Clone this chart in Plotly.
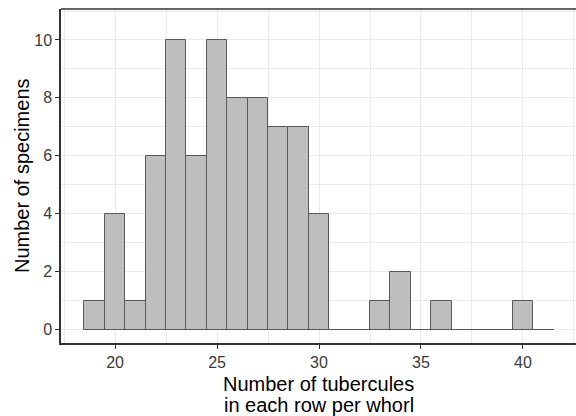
import plotly.graph_objects as go

# Data: histogram counts per bin (bin width 1, centred on integers)
bin_centers = list(range(19, 42))
counts = [1, 4, 1, 6, 10, 6, 10, 8, 8, 7, 7, 4, 0, 0, 1, 2, 0, 1, 0, 0, 0, 1, 0]
x_ticks = [20, 25, 30, 35, 40]
y_ticks = [0, 2, 4, 6, 8, 10]
x_title_lines = ["Number of tubercules", "in each row per whorl"]
y_title = "Number of specimens"

bin_width = 1.0
fill = "#BEBEBE"
outline = "#595959"
grid = "#EBEBEB"

W, H = 576, 416
L, R, T, B = 61, 0, 9, 73
plot_h = H - T - B

fig = go.Figure()
fig.add_trace(go.Bar(
    x=bin_centers, y=counts, width=bin_width,
    marker=dict(color=fill, line=dict(color=outline, width=1)),
    showlegend=False, hoverinfo="x+y",
))
# outline of empty bins along the baseline (as ggplot draws zero-height bins)
edges = [bin_centers[0] - bin_width / 2, bin_centers[-1] + bin_width / 2]
fig.add_trace(go.Scatter(
    x=edges, y=[0, 0], mode="lines",
    line=dict(color=outline, width=1), showlegend=False, hoverinfo="skip",
))

font_family = "Liberation Sans, Arial, sans-serif"

def py_to_paper(py):
    return (H - B - py) / plot_h

annotations = []
for line, py in zip(x_title_lines, [384, 405]):
    annotations.append(dict(
        text=line, xref="paper", yref="paper", x=0.5, y=py_to_paper(py),
        xanchor="center", yanchor="middle", showarrow=False,
        font=dict(size=20, color="#000000", family=font_family),
    ))
annotations.append(dict(
    text=y_title, xref="paper", yref="paper", x=(22 - L) / (W - L - R),
    y=py_to_paper(176), xanchor="center", yanchor="middle", textangle=-90,
    showarrow=False, font=dict(size=20, color="#000000", family=font_family),
))

fig.update_layout(
    width=W, height=H,
    margin=dict(l=L, r=R, t=T, b=B, autoexpand=False),
    paper_bgcolor="white", plot_bgcolor="white",
    bargap=0,
    font=dict(family=font_family, color="#000000"),
    xaxis=dict(
        range=[17.35, 42.6], tickvals=x_ticks, automargin=False,
        showgrid=True, gridcolor=grid, gridwidth=1.2,
        minor=dict(dtick=2.5, tick0=17.5, showgrid=True, gridcolor=grid, gridwidth=0.6),
        showline=True, linecolor="#333333", linewidth=1.5,
        ticks="outside", ticklen=4, tickcolor="#333333", tickwidth=1.2,
        tickfont=dict(size=16, color="#3A3A3A"),
        zeroline=False, fixedrange=True,
    ),
    yaxis=dict(
        range=[-0.466, 11.07], tickvals=y_ticks, automargin=False,
        showgrid=True, gridcolor=grid, gridwidth=1.2,
        minor=dict(dtick=1, tick0=1, showgrid=True, gridcolor=grid, gridwidth=0.6),
        showline=True, linecolor="#333333", linewidth=1.5,
        ticks="outside", ticklen=4, tickcolor="#333333", tickwidth=1.2,
        tickfont=dict(size=16, color="#3A3A3A"),
        zeroline=False, fixedrange=True,
    ),
    annotations=annotations,
    shapes=[dict(type="line", xref="paper", yref="paper", x0=0, x1=1, y0=1, y1=1,
                 line=dict(color="#333333", width=1.5))],
)

fig.write_html(
    "out.html",
    config={"displayModeBar": False},
    post_script="document.body.style.margin='0';document.body.style.padding='0';document.body.style.overflow='hidden';",
)
